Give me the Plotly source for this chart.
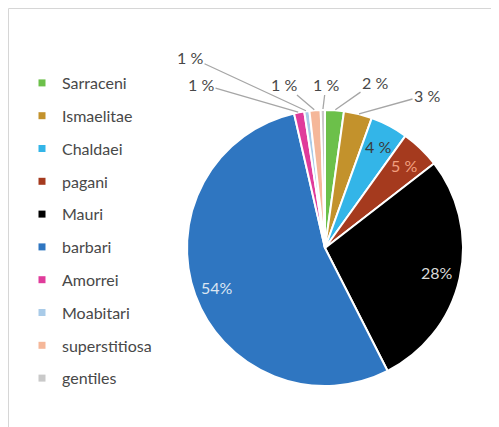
import math
import plotly.graph_objects as go

categories = ["Sarraceni", "Ismaelitae", "Chaldaei", "pagani", "Mauri",
              "barbari", "Amorrei", "Moabitari", "superstitiosa", "gentiles"]
values = [2.2, 3.3, 4.4, 4.6, 28.0, 53.9, 1.2, 0.6, 1.3, 0.5]
label_text = ["2 %", "3 %", "4 %", "5 %", "28%", "54%", "1 %", "1 %", "1 %", "1 %"]

# styles
colors = ["#6cc04a", "#c3922c", "#33b5e8", "#a53a1e", "#000000",
          "#2f76c1", "#e03b9b", "#a9cbe8", "#f5b799", "#c9c9c9"]
text_colors = ["#484848", "#484848", "#3a3a3a", "#f2a07f", "#d9d9d9",
               "#dce6f2", "#484848", "#484848", "#484848", "#484848"]
inside = [False, False, True, True, True, True, False, False, False, False]
# outside label text positions (page pixels)
outside_pos = {0: (375, 82), 1: (427, 95), 6: (201, 84), 7: (190, 57),
               8: (284, 84), 9: (326, 84)}

# geometry (page pixels; figure is drawn with an 8px page offset)
W, H, OFF = 499, 427, 8
CX, CY, R = 325, 248, 138
FONT = "Lato"

fig = go.Figure()
fig.add_trace(go.Pie(
    labels=categories, values=values,
    textinfo="none", sort=False, direction="clockwise", rotation=0,
    marker=dict(colors=colors, line=dict(color="white", width=2)),
    showlegend=False,
    domain=dict(x=[(CX - R - OFF) / W, (CX + R - OFF) / W],
                y=[(H + OFF - (CY + R)) / H, (H + OFF - (CY - R)) / H]),
    hoverinfo="label+percent",
))

for name, c in zip(categories, colors):
    fig.add_trace(go.Scatter(
        x=[None], y=[None], mode="markers", name=name, legendgroup=name,
        marker=dict(symbol="square", size=7, color=c), showlegend=True,
        hoverinfo="skip",
    ))

total = sum(values)
annotations = []
cum = 0.0
for i, v in enumerate(values):
    mid = 2 * math.pi * (cum + v / 2) / total
    cum += v
    sx, sy = math.sin(mid), -math.cos(mid)
    if inside[i]:
        annotations.append(dict(
            x=CX + 0.83 * R * sx, y=CY + 0.83 * R * sy, xref="x", yref="y",
            text=label_text[i], showarrow=False,
            font=dict(family=FONT, size=16, color=text_colors[i])))
    else:
        lx, ly = outside_pos[i]
        annotations.append(dict(
            x=CX + R * sx, y=CY + R * sy, xref="x", yref="y",
            ax=lx, ay=ly, axref="x", ayref="y",
            text=label_text[i], showarrow=True, arrowhead=0,
            arrowwidth=1.3, arrowcolor="#a6a6a6", standoff=1,
            font=dict(family=FONT, size=16, color=text_colors[i])))

fig.update_layout(
    width=W, height=H,
    margin=dict(l=0, r=0, t=0, b=0),
    paper_bgcolor="white", plot_bgcolor="white",
    font=dict(family=FONT, color="#484848"),
    xaxis=dict(visible=False, range=[OFF, W + OFF], domain=[0, 1], fixedrange=True),
    yaxis=dict(visible=False, range=[H + OFF, OFF], domain=[0, 1], fixedrange=True),
    legend=dict(x=(22 - OFF) / W, y=1 - (66 - OFF) / H, xanchor="left", yanchor="top",
                font=dict(family=FONT, size=16, color="#484848"),
                tracegroupgap=9, itemwidth=30, bgcolor="rgba(0,0,0,0)"),
    annotations=annotations,
    shapes=[dict(type="rect", xref="x", yref="y",
                 x0=8.5, x1=495, y0=8.5, y1=H + OFF + 20,
                 line=dict(color="#d6d6d6", width=1))],
)

fig.write_html("out.html")
